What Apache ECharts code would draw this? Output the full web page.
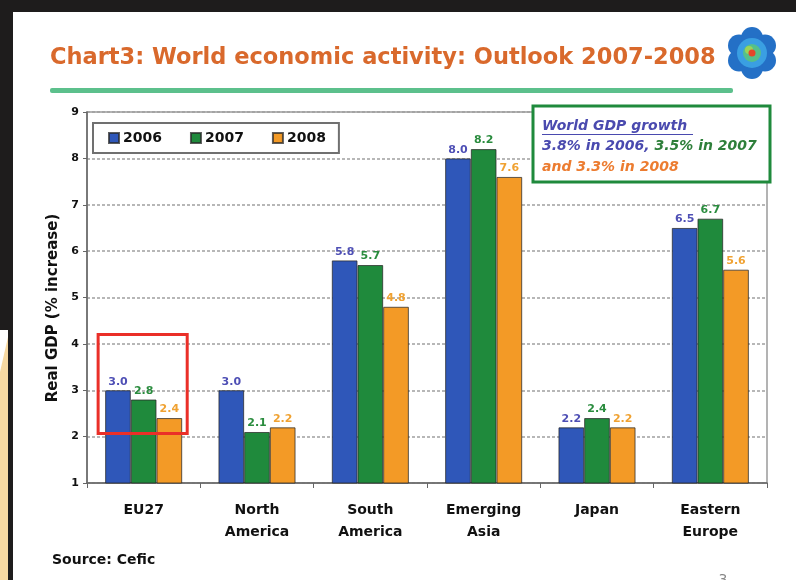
<!DOCTYPE html>
<html>
<head>
<meta charset="utf-8">
<script src="https://cdn.jsdelivr.net/npm/echarts@6/dist/echarts.min.js"></script>
<style>
html,body{margin:0;padding:0;background:#fff;}
#main{width:796px;height:580px;}
</style>
</head>
<body>
<div id="main"></div>
<script>
const categories = ['EU27', 'North\nAmerica', 'South\nAmerica', 'Emerging\nAsia', 'Japan', 'Eastern\nEurope'];
const years = ['2006', '2007', '2008'];
const values2006 = [3.0, 3.0, 5.8, 8.0, 2.2, 6.5];
const values2007 = [2.8, 2.1, 5.7, 8.2, 2.4, 6.7];
const values2008 = [2.4, 2.2, 4.8, 7.6, 2.2, 5.6];
const yMin = 1, yMax = 9, yStep = 1;
const titleText = 'Chart3: World economic activity: Outlook 2007-2008';
const yAxisTitle = 'Real GDP (% increase)';
const noteTitle = 'World GDP growth';
const noteLine2a = '3.8% in 2006,';
const noteLine2b = ' 3.5% in 2007';
const noteLine3 = 'and 3.3% in 2008';
const sourceText = 'Source: Cefic';

const FONT = '"DejaVu Sans", sans-serif';
const barColors = ['#2f57b9', '#1f8a3c', '#f39a26'];
const labelColors = ['#4e4fb5', '#2a8c3e', '#f0a232'];

const chart = echarts.init(document.getElementById('main'), null, {renderer: 'canvas'});

function makeSeries(name, data, i) {
  return {
    name: name,
    type: 'bar',
    data: data,
    barGap: '0%',
    barCategoryGap: '32%',
    itemStyle: {color: barColors[i], borderColor: 'rgba(40,40,40,0.75)', borderWidth: 1},
    label: {
      show: true, position: 'top', distance: 3,
      formatter: p => p.value.toFixed(1),
      color: labelColors[i], fontFamily: FONT, fontWeight: 'bold', fontSize: 11
    }
  };
}

// Logo petals
const logoCx = 752, logoCy = 53;
const logoEls = [];
for (let k = 0; k < 6; k++) {
  const a = Math.PI / 6 + k * Math.PI / 3;
  logoEls.push({type: 'circle', shape: {cx: logoCx + 15 * Math.cos(a), cy: logoCy + 15 * Math.sin(a), r: 11}, style: {fill: '#2470c6'}});
}
logoEls.push({type: 'circle', shape: {cx: logoCx, cy: logoCy, r: 15}, style: {fill: '#3a9fe2'}});
logoEls.push({type: 'circle', shape: {cx: logoCx, cy: logoCy, r: 9}, style: {fill: '#55c08a'}});
logoEls.push({type: 'circle', shape: {cx: logoCx - 3, cy: logoCy - 3, r: 4}, style: {fill: '#9ad35a'}});
logoEls.push({type: 'circle', shape: {cx: logoCx, cy: logoCy, r: 3.5}, style: {fill: '#e4462a'}});

const option = {
  backgroundColor: '#ffffff',
  animation: false,
  textStyle: {fontFamily: FONT},
  grid: {left: 87, right: 29, top: 112, bottom: 97, show: true, borderColor: '#9a9a9a', borderWidth: 1.5, backgroundColor: 'transparent'},
  legend: {
    data: years,
    left: 93, top: 123,
    orient: 'horizontal',
    itemWidth: 10, itemHeight: 10, itemGap: 28,
    icon: 'rect',
    padding: [8, 13, 8, 15],
    borderColor: '#707070', borderWidth: 2,
    textStyle: {fontFamily: FONT, fontWeight: 'bold', fontSize: 14, color: '#111', padding: [0, 0, 0, -1]}
  },
  xAxis: {
    type: 'category',
    data: categories,
    axisLine: {lineStyle: {color: '#666', width: 1.5}},
    axisTick: {show: true, length: 5, alignWithLabel: false, lineStyle: {color: '#666'}},
    axisLabel: {margin: 16, fontFamily: FONT, fontWeight: 'bold', fontSize: 14, color: '#111', lineHeight: 22},
    splitLine: {show: false}
  },
  yAxis: {
    type: 'value',
    min: yMin, max: yMax, interval: yStep,
    axisLine: {show: true, lineStyle: {color: '#666', width: 1.5}},
    axisTick: {show: true, length: 4, lineStyle: {color: '#666'}},
    axisLabel: {margin: 8, fontFamily: FONT, fontWeight: 'bold', fontSize: 11, color: '#111'},
    splitLine: {show: true, lineStyle: {color: '#a0a0a0', type: [3, 2], width: 1.5}}
  },
  series: [
    makeSeries(years[0], values2006, 0),
    makeSeries(years[1], values2007, 1),
    makeSeries(years[2], values2008, 2)
  ],
  graphic: [
    // frame
    {type: 'rect', shape: {x: 0, y: 0, width: 796, height: 12}, style: {fill: '#1e1c1c'}, z: 100},
    {type: 'rect', shape: {x: 8, y: 0, width: 5, height: 580}, style: {fill: '#1e1c1c'}, z: 100},
    {type: 'rect', shape: {x: 0, y: 0, width: 8, height: 330}, style: {fill: '#1e1c1c'}, z: 100},
    {type: 'polygon', shape: {points: [[0, 372], [8, 337], [8, 580], [0, 580]]}, style: {fill: '#f7d9a2'}, z: 100},
    // title
    {type: 'text', x: 50, y: 58, style: {text: titleText, font: 'bold 22.5px ' + FONT, fill: '#d9692c', verticalAlign: 'middle'}, z: 100},
    {type: 'rect', shape: {x: 50, y: 88, width: 683, height: 5, r: 2}, style: {fill: '#5cc08c'}, z: 100},
    {type: 'group', children: logoEls, z: 100},
    // note box
    {type: 'rect', shape: {x: 533, y: 106, width: 237, height: 76}, style: {fill: '#fff', stroke: '#1f8a3c', lineWidth: 3}, z: 100},
    {type: 'text', x: 542, y: 126, style: {text: noteTitle, font: 'italic bold 14px ' + FONT, fill: '#4a4aaf', verticalAlign: 'middle'}, z: 101},
    {type: 'line', shape: {x1: 542, y1: 134.5, x2: 693, y2: 134.5}, style: {stroke: '#4a4aaf', lineWidth: 1.2}, z: 101},
    {type: 'text', x: 542, y: 146, style: {
      text: '{b|' + noteLine2a + '}{g|' + noteLine2b + '}',
      verticalAlign: 'middle',
      rich: {
        b: {font: 'italic bold 14px ' + FONT, fill: '#4a4aaf'},
        g: {font: 'italic bold 14px ' + FONT, fill: '#2e7f3a'}
      }
    }, z: 101},
    {type: 'text', x: 542, y: 167, style: {text: noteLine3, font: 'italic bold 14px ' + FONT, fill: '#ec7c30', verticalAlign: 'middle'}, z: 101},
    // y axis title
    {type: 'text', x: 53, y: 308, rotation: Math.PI / 2, style: {text: yAxisTitle, font: 'bold 15px ' + FONT, fill: '#111', align: 'center', verticalAlign: 'middle'}, z: 100},
    // source
    {type: 'text', x: 52, y: 560, style: {text: sourceText, font: 'bold 14px ' + FONT, fill: '#111', verticalAlign: 'middle'}, z: 100},
    {type: 'text', x: 723, y: 580, style: {text: '3', font: '14px ' + FONT, fill: '#888', align: 'center', verticalAlign: 'middle'}, z: 100}
  ]
};

chart.setOption(option);

// Red highlight box around EU27, positioned through the axes
const cx0 = chart.convertToPixel({xAxisIndex: 0}, categories[0]);
const cx1 = chart.convertToPixel({xAxisIndex: 0}, categories[1]);
const band = cx1 - cx0;
const yTop = chart.convertToPixel({yAxisIndex: 0}, 4.2);
const yBot = chart.convertToPixel({yAxisIndex: 0}, 2.07);
const halfW = band * 0.393;
chart.setOption({
  graphic: option.graphic.concat([
    {type: 'rect', shape: {x: cx0 - 1 - halfW, y: yTop, width: 2 * halfW, height: yBot - yTop}, style: {fill: 'none', stroke: '#ea2f28', lineWidth: 3}, z: 100}
  ])
});
</script>
</body>
</html>
